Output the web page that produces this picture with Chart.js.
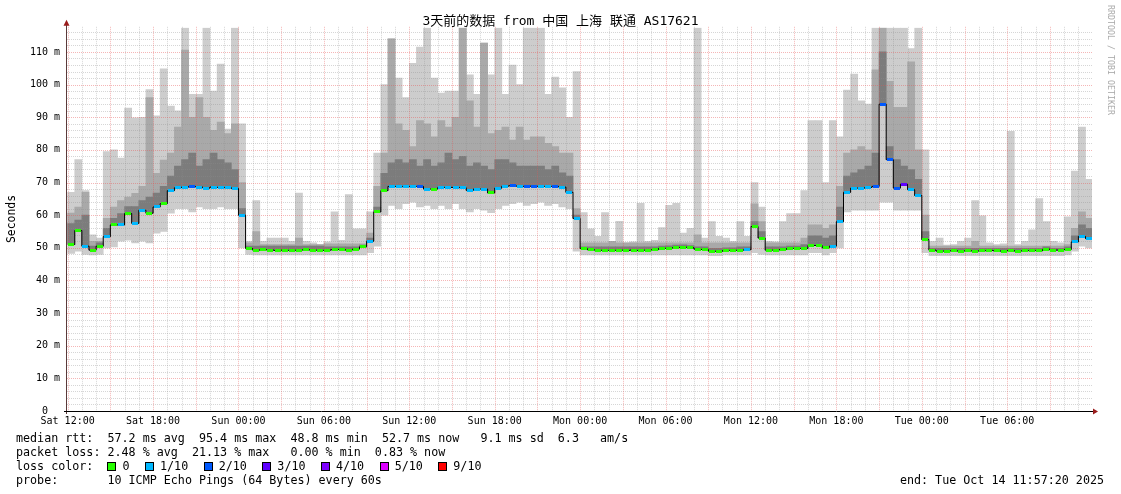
<!DOCTYPE html>
<html>
<head>
<meta charset="utf-8">
<script src="https://cdn.jsdelivr.net/npm/chart.js@4.4.1/dist/chart.umd.min.js"></script>
<style>
  body { margin: 0; background: #fff; }
  #wrap { position: relative; width: 1121px; height: 494px; overflow: hidden; background: #fff; }
  #c { position: absolute; left: 0; top: 0; }
  .t { position: absolute; font-family: "DejaVu Sans Mono", monospace; color: #000; white-space: pre; }
  .row { left: 16px; font-size: 11.7px; line-height: 14px; }
  .sq { display: inline-block; width: 7px; height: 7px; border: 1px solid #000; vertical-align: -1px; margin-right: 6px; }
  .lb { display: inline-block; margin-right: 15.5px; }
</style>
</head>
<body>
<div id="wrap">
  <canvas id="c" width="1121" height="494"></canvas>
  <div class="t" id="title" style="left:0; width:1121px; top:13px; text-align:center; font-size:13px; line-height:16px; font-family:'DejaVu Sans Mono','Noto Sans CJK SC',monospace;"></div>
  <div class="t" id="ytitle" style="left:-19px; top:212px; width:60px; text-align:center; font-size:11.4px; line-height:14px; transform:rotate(-90deg);"></div>
  <div class="t" id="wm" style="left:1051px; top:54px; width:120px; text-align:center; font-size:8.3px; line-height:12px; color:#aaaaaa; transform:rotate(90deg);"></div>
  <div class="t row" id="r1" style="top:431px;"></div>
  <div class="t row" id="r2" style="top:445px;"></div>
  <div class="t row" id="r3" style="top:459px;"></div>
  <div class="t row" id="r4" style="top:473px;"></div>
  <div class="t" id="end" style="right:17px; top:473px; font-size:11.7px; line-height:14px;"></div>
</div>
<script>
// ---------------- data (30-minute bins starting Sat 12:00) ----------------
const titleText = '3天前的数据 from 中国 上海 联通 AS17621';
const yAxisTitle = 'Seconds';
const watermark = 'RRDTOOL / TOBI OETIKER';

const xTickHours = [0, 6, 12, 18, 24, 30, 36, 42, 48, 54, 60, 66];
const xTickLabels = ['Sat 12:00','Sat 18:00','Sun 00:00','Sun 06:00','Sun 12:00','Sun 18:00',
                     'Mon 00:00','Mon 06:00','Mon 12:00','Mon 18:00','Tue 00:00','Tue 06:00'];
const yTickValues = [0, 10, 20, 30, 40, 50, 60, 70, 80, 90, 100, 110];
const yTickLabels = ['0  ','10 m','20 m','30 m','40 m','50 m','60 m','70 m','80 m','90 m','100 m','110 m'];

const binStartHour = 0.25;   // centre of the first bin, hours after Sat 12:00
const binHours = 0.5;

// median rtt (ms)
const median = [
  51, 55.3, 50.5, 49.3, 50.5, 53.4, 57, 57, 60.5, 57.5,
  61.5, 60.6, 62.5, 63.5, 67.5, 68.4, 68.6, 68.8, 68.6, 68.3,
  68.6, 68.5, 68.4, 68.2, 60, 49.8, 49.3, 49.4, 49.3, 49.2,
  49.3, 49.2, 49.3, 49.4, 49.3, 49.2, 49.3, 49.4, 49.5, 49.3,
  49.6, 50.3, 52, 61, 67.5, 68.8, 68.8, 68.7, 68.8, 68.8,
  68.0, 68.0, 68.5, 68.5, 68.5, 68.4, 67.6, 68.0, 68.0, 66.8,
  68.3, 68.9, 69.0, 68.9, 68.8, 68.9, 68.8, 68.8, 68.8, 68.6,
  67, 59, 49.8, 49.4, 49.3, 49.2, 49.2, 49.3, 49.2, 49.3,
  49.2, 49.3, 49.4, 49.8, 49.9, 50.1, 50.2, 50.0, 49.6, 49.5,
  49.0, 48.9, 49.2, 49.2, 49.3, 49.4, 56.5, 53, 49.3, 49.3,
  49.5, 49.8, 49.8, 49.8, 50.7, 50.7, 50.0, 50.5, 58, 67,
  68.3, 68.3, 68.5, 68.8, 94, 77, 68.3, 69.5, 67.8, 66,
  52.5, 49.3, 49.0, 49.0, 49.1, 49.0, 49.1, 49.0, 49.1, 49.2,
  49.1, 49.0, 49.2, 49.0, 49.1, 49.2, 49.1, 49.6, 49.3, 49.3,
  49.5, 51.8, 53.5, 52.8
];
// lost pings out of 10
const loss = [
  0,0,1,0,0,1,0,1,0,1,
  1,0,1,0,1,1,1,2,1,1,
  1,1,1,1,1,0,0,0,0,0,
  0,0,0,0,0,0,0,0,0,0,
  0,0,1,0,0,1,1,1,1,2,
  1,0,1,1,1,1,1,1,1,0,
  1,1,2,1,2,2,1,1,2,1,
  1,1,0,0,0,0,0,0,0,0,
  0,0,0,0,0,0,0,0,0,0,
  0,0,0,0,0,1,0,0,0,0,
  0,0,0,0,0,0,0,1,1,1,
  1,1,1,2,2,2,2,3,1,1,
  0,0,0,0,0,0,0,0,0,0,
  0,0,0,0,0,0,0,0,0,0,
  0,1,1,1
];
// smoke: highest ping (light), inner band top (mid), core band top (dark), lowest ping
const smokeMax = [
  67, 77, 67.5, 54, 53, 79.5, 80, 77.5, 92.8, 89.8,
  90, 98.5, 90.4, 104.8, 93.4, 92, 117.4, 97, 97, 117.4,
  98, 106.3, 86.4, 117.4, 88, 52, 64.5, 52, 53, 53,
  53, 52, 66.8, 52, 51.5, 51, 51.8, 61, 52.3, 66.3,
  55.8, 55.8, 61, 79, 100, 114, 102, 96, 106.5, 111.5,
  117.4, 102, 97.4, 98, 98, 117.4, 103, 97, 112.7, 103,
  117.4, 97, 106, 100, 117.4, 117.4, 117.4, 97, 102.3, 99,
  90, 104, 60.8, 55.8, 53.5, 60.8, 52, 58.1, 51.5, 51.8,
  63.6, 52, 52.3, 56.2, 63, 63.6, 54.5, 56, 117.4, 53,
  58, 53.5, 53, 52, 58, 53.5, 70, 62.5, 52, 51.8,
  58, 60.5, 60.5, 67.5, 89, 89, 70, 89, 84, 98.3,
  103.2, 95, 94, 117.4, 117.4, 117.4, 117.4, 117.4, 111, 117.4,
  80, 52, 53, 50.8, 51, 52, 53, 64.5, 59.8, 51.5,
  51, 51.2, 85.7, 51, 52, 55.5, 65.1, 58, 52, 51.5,
  59.5, 73.5, 87, 71
];
const smokeMid = [
  60.6, 62.5, 67, 52, 52, 59, 62.5, 64.5, 65.5, 66.7,
  68.8, 96, 72.8, 76.9, 79, 87, 110.6, 90, 96, 90,
  86, 88.5, 85, 88, 70, 51.5, 55, 51, 51, 51,
  51, 51, 53, 51, 51, 51, 51.2, 51.2, 51.2, 51.2,
  51.2, 51.2, 54.5, 68.8, 79, 114, 88, 86, 81, 89,
  88, 84, 89, 87, 90, 117.4, 95, 87, 112.7, 85,
  86, 87, 83, 87, 83, 84, 84, 82, 81, 79,
  79, 62, 51.5, 51.5, 51.5, 51.5, 52, 51.5, 51.5, 51.5,
  51.5, 51.5, 51.5, 51.5, 51.5, 51.5, 51.5, 51.5, 54, 51.5,
  51.5, 51.5, 51.5, 51.5, 51.5, 51.5, 63.5, 58, 51.5, 51.5,
  51.5, 51.5, 51.5, 53, 57, 57, 56, 57, 68.8, 79,
  80, 81, 80, 104.5, 117.4, 101, 93, 93, 107, 80,
  60, 50.5, 50.5, 50.5, 50.5, 50.5, 50.5, 52, 50.5, 50.5,
  50.5, 50.5, 50.5, 50.5, 50.5, 50.5, 50.5, 50.5, 50.5, 50.5,
  51, 56, 61, 59
];
const smokeCore = [
  57.4, 58.5, 60, 50.5, 51.5, 56, 59, 60.5, 62.6, 62.6,
  64.5, 65.5, 66.8, 68.8, 72, 75, 77, 79, 75, 77,
  79, 77, 76, 74, 62, 50.5, 50.5, 50.5, 50.5, 50.5,
  50.5, 50.5, 50.5, 50.5, 50.5, 50.5, 50.3, 50.3, 50.3, 50.3,
  50.3, 50.8, 53, 62.5, 72.8, 76, 77, 76, 77, 75,
  77, 75, 76, 79, 77, 78, 75, 76, 75, 74,
  77, 77, 76, 75, 75, 75, 75, 74, 75, 73,
  72, 60, 50.3, 50.3, 50.3, 50.3, 50.3, 50.3, 50.3, 50.3,
  50.3, 50.3, 50.3, 50.5, 50.6, 50.8, 50.9, 50.7, 50.3, 50.3,
  49.8, 49.8, 50.0, 50.0, 50.3, 50.3, 58, 55, 50.3, 50.3,
  50.3, 50.5, 50.5, 51, 53.7, 53.7, 53, 53.7, 62.5, 72,
  73, 74, 75, 79, 110, 81, 77, 75, 74, 71,
  55, 49.8, 49.8, 49.8, 49.8, 49.8, 49.8, 49.8, 49.8, 49.8,
  49.8, 49.8, 49.8, 49.8, 49.8, 49.8, 49.8, 50.3, 49.8, 49.8,
  50.3, 53.7, 57, 56
];
const smokeMin = [
  48.3, 49, 48, 47.8, 48, 50, 50.3, 52, 52.3, 51.5,
  52, 51.5, 54.5, 55, 60.6, 62, 62, 61, 62.5, 62,
  62, 62.5, 62, 62, 50, 48, 47.8, 47.8, 47.8, 47.8,
  47.8, 47.8, 47.8, 47.8, 47.8, 47.8, 47.8, 47.8, 47.8, 47.8,
  47.8, 47.8, 48.5, 50.5, 60, 63, 62, 63.5, 64, 62.5,
  63, 62, 63, 62, 63.5, 62, 61, 62, 61.5, 60.8,
  62, 63, 63.5, 64, 63, 63.5, 64, 63, 63.5, 62.5,
  62, 49, 47.8, 47.8, 47.8, 47.8, 47.8, 47.8, 47.8, 47.8,
  47.8, 47.8, 47.8, 47.8, 47.8, 47.8, 47.8, 47.8, 47.8, 47.8,
  47.6, 47.6, 47.8, 47.8, 47.8, 47.8, 48.5, 48, 47.8, 47.8,
  47.8, 47.8, 47.8, 47.8, 48.5, 48.5, 47.8, 48.5, 50, 61,
  61.5, 61.5, 61.5, 61.5, 64, 64, 61.5, 61.5, 61.5, 61.5,
  48.5, 47.6, 47.6, 47.6, 47.6, 47.6, 47.6, 47.6, 47.6, 47.6,
  47.6, 47.6, 47.6, 47.6, 47.6, 47.6, 47.6, 47.6, 47.6, 47.6,
  47.8, 49, 50.5, 50
];

const lossLabels = ['0', '1/10', '2/10', '3/10', '4/10', '5/10', '9/10'];
const lossCounts = [0, 1, 2, 3, 4, 5, 9];
const lossColors = ['#26ff00', '#00b8ff', '#0059ff', '#5e00ff', '#7e00ff', '#dd00ff', '#ff0000'];

const statsLine1 = 'median rtt:  57.2 ms avg  95.4 ms max  48.8 ms min  52.7 ms now   9.1 ms sd  6.3   am/s';
const statsLine2 = 'packet loss: 2.48 % avg  21.13 % max   0.00 % min  0.83 % now';
const statsLine3 = 'loss color:  ';
const statsLine4 = 'probe:       10 ICMP Echo Pings (64 Bytes) every 60s';
const endText = 'end: Tue Oct 14 11:57:20 2025';

// ---------------- axis ranges ----------------
const xMin = -0.0444, xMax = 71.9556;   // 11:57:20 Sat .. 11:57:20 Tue
const yMin = 0, yMax = 117.4;
const yMinorStep = 2, yMajorStep = 10, xMinorStep = 1, xMajorStep = 3;

// ---------------- texts ----------------
document.getElementById('title').textContent = titleText;
document.getElementById('ytitle').textContent = yAxisTitle;
document.getElementById('wm').textContent = watermark;
document.getElementById('r1').textContent = statsLine1;
document.getElementById('r2').textContent = statsLine2;
document.getElementById('r4').textContent = statsLine4;
document.getElementById('end').textContent = endText;
const r3 = document.getElementById('r3');
r3.appendChild(document.createTextNode(statsLine3));
lossLabels.forEach((lab, i) => {
  const s = document.createElement('span'); s.className = 'sq'; s.style.background = lossColors[i];
  const l = document.createElement('span'); l.className = 'lb'; l.textContent = lab;
  r3.appendChild(s); r3.appendChild(l);
});

// ---------------- chart ----------------
const xs = median.map((_, i) => binStartHour + i * binHours);
const colorForLoss = c => lossColors[lossCounts.indexOf(c)] || '#ff0000';
const markerCache = {};
function marker(c) {
  if (!markerCache[c]) {
    const cv = document.createElement('canvas'); cv.width = 6; cv.height = 3;
    const g = cv.getContext('2d'); g.fillStyle = colorForLoss(c); g.fillRect(0, 0, 6, 3);
    markerCache[c] = cv;
  }
  return markerCache[c];
}
const band = (lo, hi) => hi.map((h, i) => ({ x: xs[i], y: [lo[i], h] }));
const barCommon = { type: 'bar', grouped: false, barPercentage: 1, categoryPercentage: 1, borderWidth: 0 };

function drawGrid(chart) {
  const { ctx, chartArea: a, scales: { x, y } } = chart;
  ctx.save();
  ctx.beginPath(); ctx.rect(a.left, a.top - 6, a.right - a.left, a.bottom - a.top + 6); ctx.clip();
  ctx.lineWidth = 1; ctx.setLineDash([1, 1]);
  const top = a.top - 1;
  // minor
  ctx.strokeStyle = 'rgba(140,140,140,0.36)';
  ctx.beginPath();
  for (let v = yMinorStep; v < yMax; v += yMinorStep) {
    if (v % yMajorStep === 0) continue;
    const py = Math.round(y.getPixelForValue(v)) + 0.5;
    ctx.moveTo(a.left, py); ctx.lineTo(a.right, py);
  }
  for (let h = 0; h < xMax; h += xMinorStep) {
    if (h % xMajorStep === 0) continue;
    const px = Math.round(x.getPixelForValue(h)) + 0.5;
    ctx.moveTo(px, top); ctx.lineTo(px, a.bottom);
  }
  ctx.stroke();
  // major
  ctx.strokeStyle = 'rgba(230,80,80,0.42)';
  ctx.beginPath();
  for (let v = yMajorStep; v < yMax; v += yMajorStep) {
    const py = Math.round(y.getPixelForValue(v)) + 0.5;
    ctx.moveTo(a.left, py); ctx.lineTo(a.right, py);
  }
  for (let h = 0; h < xMax; h += xMajorStep) {
    const px = Math.round(x.getPixelForValue(h)) + 0.5;
    ctx.moveTo(px, top); ctx.lineTo(px, a.bottom);
  }
  ctx.stroke();
  ctx.restore();
}

const rrdPlugin = {
  id: 'rrd',
  beforeDatasetDraw(chart, args) {
    if (args.meta.type === 'line') drawGrid(chart);
  },
  afterDraw(chart) {
    const { ctx, chartArea: a } = chart;
    ctx.save();
    ctx.setLineDash([]); ctx.lineWidth = 1;
    // y axis
    ctx.strokeStyle = '#5b3a3a';
    ctx.beginPath(); ctx.moveTo(a.left - 0.5, a.bottom + 3); ctx.lineTo(a.left - 0.5, a.top - 4); ctx.stroke();
    // x axis
    ctx.strokeStyle = '#000';
    ctx.beginPath(); ctx.moveTo(a.left - 3, a.bottom + 0.5); ctx.lineTo(a.right + 2, a.bottom + 0.5); ctx.stroke();
    // arrows
    ctx.fillStyle = '#9a1c1c';
    ctx.beginPath(); ctx.moveTo(a.left - 0.5, a.top - 8); ctx.lineTo(a.left - 3.5, a.top - 2); ctx.lineTo(a.left + 2.5, a.top - 2); ctx.closePath(); ctx.fill();
    ctx.beginPath(); ctx.moveTo(a.right + 6, a.bottom + 0.5); ctx.lineTo(a.right + 1, a.bottom - 2.5); ctx.lineTo(a.right + 1, a.bottom + 3.5); ctx.closePath(); ctx.fill();
    ctx.restore();
  }
};

new Chart(document.getElementById('c'), {
  type: 'bar',
  data: {
    datasets: [
      { type: 'line', data: median.map((v, i) => ({ x: xs[i], y: v })), borderColor: '#000', borderWidth: 1,
        stepped: 'middle', pointStyle: ctx => marker(loss[ctx.dataIndex]), pointRadius: 3, order: 0 },
      Object.assign({ data: band(median, smokeCore), backgroundColor: '#7c7c7c', order: 1 }, barCommon),
      Object.assign({ data: band(median, smokeMid), backgroundColor: '#a9a9a9', order: 2 }, barCommon),
      Object.assign({ data: band(smokeMin, smokeMax), backgroundColor: '#cdcdcd', order: 3 }, barCommon)
    ]
  },
  options: {
    responsive: false, animation: false, devicePixelRatio: 1,
    layout: { padding: { top: 27.8, right: 29, left: 0, bottom: 0 } },
    plugins: { legend: { display: false }, tooltip: { enabled: false }, title: { display: false } },
    scales: {
      x: {
        type: 'linear', min: xMin, max: xMax, offset: false,
        afterBuildTicks: s => { s.ticks = xTickHours.map(v => ({ value: v })); },
        afterFit: s => { s.height = 83; },
        ticks: { autoSkip: false, maxRotation: 0, padding: 4, color: '#000',
                 font: { family: 'DejaVu Sans Mono', size: 10 },
                 callback: v => xTickLabels[xTickHours.indexOf(v)] },
        grid: { display: false, drawTicks: false }, border: { display: false }
      },
      y: {
        type: 'linear', min: yMin, max: yMax,
        afterBuildTicks: s => { s.ticks = yTickValues.map(v => ({ value: v })); },
        afterFit: s => { s.width = 67; },
        ticks: { padding: 7, color: '#000', font: { family: 'DejaVu Sans Mono', size: 10 },
                 callback: v => yTickLabels[yTickValues.indexOf(v)] },
        grid: { display: false, drawTicks: false }, border: { display: false }
      }
    }
  },
  plugins: [rrdPlugin]
});
</script>
</body>
</html>
